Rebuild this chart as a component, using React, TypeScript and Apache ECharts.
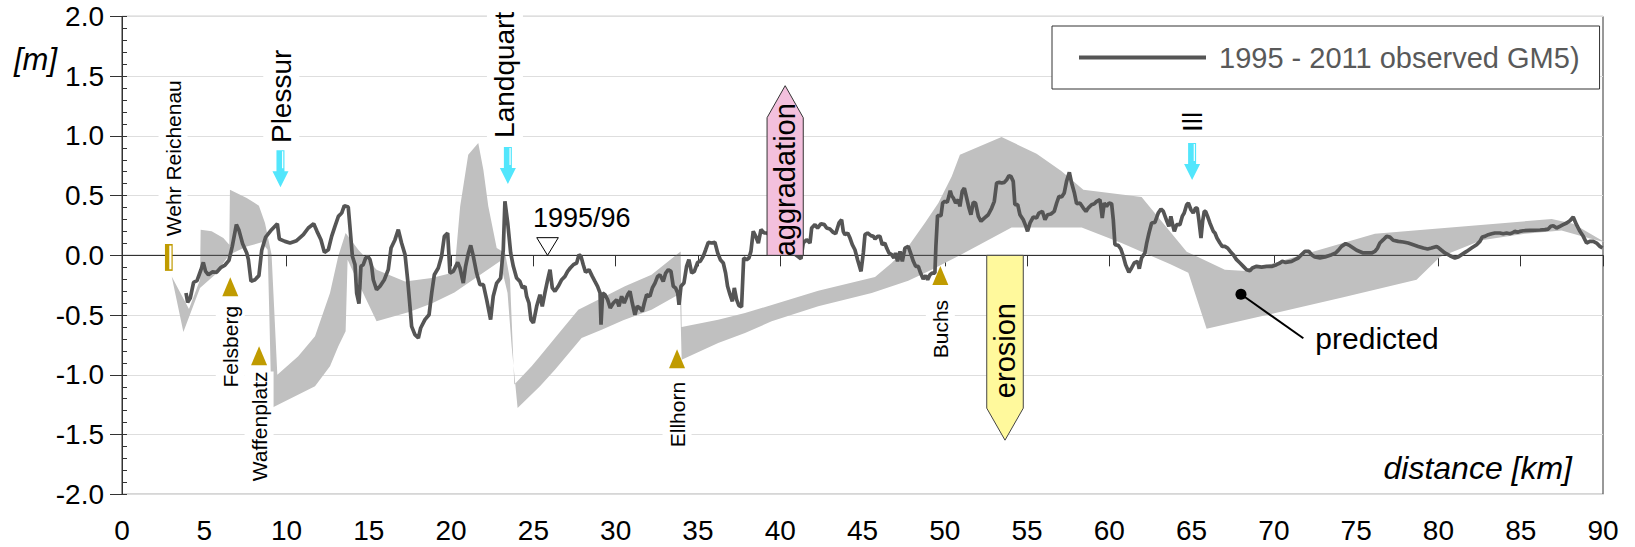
import React, { useEffect, useRef } from 'react';
import * as echarts from 'echarts';

const FONT = "'Liberation Sans', Arial, Helvetica, sans-serif";

// Axis ranges
const X_MIN = 0;
const X_MAX = 90;
const X_STEP = 5;
const Y_MIN = -2;
const Y_MAX = 2;
const Y_STEP = 0.5;
const Y_MINOR_STEP = 0.1;

const OBSERVED_NAME = '1995 - 2011 observed GM5)';

// Observed bed level change 1995 - 2011: [distance km, change m]
const observed: [number, number][] = [
  [3.89, -0.315], [3.99, -0.393], [4.15, -0.357], [4.35, -0.226], [4.56, -0.212], [4.8, -0.12], [4.94, -0.059],
  [5.08, -0.134], [5.25, -0.162], [5.49, -0.139], [5.75, -0.142], [6.02, -0.1], [6.26, -0.081], [6.5, -0.042],
  [6.7, 0.075], [6.95, 0.257], [7.11, 0.209], [7.33, 0.098], [7.58, 0.02], [7.68, -0.036], [7.84, -0.218],
  [8.08, -0.204], [8.32, -0.17], [8.49, 0.042], [8.73, 0.153], [9.09, 0.215], [9.44, 0.265], [9.56, 0.137],
  [9.9, 0.117], [10.21, 0.103], [10.61, 0.123], [11.02, 0.173], [11.32, 0.229], [11.65, 0.265], [11.85, 0.201],
  [12.09, 0.131], [12.3, 0.025], [12.54, 0.047], [12.74, 0.159], [12.94, 0.243], [13.15, 0.326], [13.35, 0.354],
  [13.51, 0.416], [13.75, 0.404], [13.85, 0.243], [14.0, -0.008], [14.16, -0.078], [14.26, -0.315], [14.4, -0.404],
  [14.52, -0.092], [14.66, -0.078], [14.81, -0.022], [14.93, -0.008], [15.07, -0.036], [15.17, -0.092], [15.27, -0.204],
  [15.47, -0.287], [15.68, -0.259], [15.94, -0.204], [16.18, -0.12], [16.35, 0.061], [16.59, 0.131], [16.79, 0.215],
  [16.99, 0.103], [17.2, 0.006], [17.36, -0.204], [17.5, -0.427], [17.6, -0.594], [17.8, -0.664], [18.01, -0.692],
  [18.15, -0.608], [18.41, -0.538], [18.66, -0.497], [18.82, -0.315], [18.98, -0.162], [19.22, -0.106], [19.42, -0.008],
  [19.59, 0.159], [19.79, 0.187], [19.93, -0.148], [20.13, -0.134], [20.4, -0.059], [20.54, -0.106], [20.74, -0.232],
  [20.88, -0.092], [21.05, 0.02], [21.19, 0.084], [21.35, -0.008], [21.55, -0.148], [21.75, -0.245], [21.96, -0.245],
  [22.16, -0.371], [22.4, -0.538], [22.56, -0.343], [22.77, -0.232], [23.01, -0.19], [23.17, 0.047], [23.27, 0.452],
  [23.44, 0.271], [23.62, 0.02], [23.78, -0.092], [23.98, -0.19], [24.18, -0.218], [24.33, -0.273], [24.49, -0.259],
  [24.59, -0.343], [24.73, -0.399], [24.85, -0.538], [25.0, -0.566], [25.2, -0.427], [25.4, -0.329], [25.54, -0.427],
  [25.7, -0.315], [25.87, -0.204], [26.01, -0.12], [26.15, -0.273], [26.31, -0.301], [26.51, -0.259], [26.72, -0.204],
  [26.92, -0.176], [27.08, -0.134], [27.24, -0.106], [27.43, -0.078], [27.63, -0.064], [27.77, 0.006], [27.89, -0.008],
  [28.03, -0.078], [28.17, -0.142], [28.38, -0.12], [28.58, -0.176], [28.74, -0.218], [28.9, -0.259], [29.05, -0.315],
  [29.11, -0.58], [29.21, -0.315], [29.35, -0.329], [29.51, -0.371], [29.67, -0.441], [29.86, -0.399], [30.06, -0.371],
  [30.2, -0.427], [30.36, -0.343], [30.52, -0.399], [30.73, -0.329], [30.87, -0.301], [31.01, -0.399], [31.17, -0.497],
  [31.31, -0.427], [31.48, -0.441], [31.62, -0.469], [31.74, -0.399], [31.88, -0.329], [32.08, -0.343], [32.23, -0.273],
  [32.39, -0.232], [32.55, -0.176], [32.69, -0.162], [32.89, -0.218], [33.04, -0.148], [33.2, -0.12], [33.36, -0.134],
  [33.5, -0.259], [33.64, -0.273], [33.77, -0.315], [33.85, -0.413], [33.97, -0.259], [34.15, -0.232], [34.31, -0.092],
  [34.45, -0.036], [34.62, -0.148], [34.78, -0.134], [34.98, -0.059], [35.14, -0.05], [35.32, -0.008], [35.47, 0.047],
  [35.63, 0.109], [35.83, 0.103], [36.03, 0.109], [36.2, 0.02], [36.36, -0.036], [36.54, -0.064], [36.68, -0.148],
  [36.8, -0.259], [36.95, -0.329], [37.09, -0.385], [37.21, -0.273], [37.35, -0.371], [37.49, -0.421], [37.65, -0.432],
  [37.78, -0.022], [37.96, -0.036], [38.1, -0.022], [38.22, 0.033], [38.36, 0.201], [38.51, 0.159], [38.67, 0.103],
  [38.83, 0.215], [39.03, 0.187], [39.19, 0.187], [41.26, -0.028], [41.4, 0.103], [41.6, 0.131], [41.81, 0.103],
  [41.91, 0.229], [42.11, 0.257], [42.27, 0.229], [42.48, 0.265], [42.68, 0.257], [42.82, 0.229], [43.02, 0.22],
  [43.22, 0.192], [43.37, 0.181], [43.57, 0.271], [43.73, 0.298], [43.83, 0.201], [43.93, 0.173], [44.1, 0.187],
  [44.24, 0.145], [44.38, 0.089], [44.54, 0.047], [44.7, -0.036], [44.91, -0.134], [45.05, 0.02], [45.15, 0.173],
  [45.31, 0.187], [45.51, 0.165], [45.66, 0.159], [45.76, 0.137], [45.92, 0.159], [46.06, 0.159], [46.2, 0.089],
  [46.36, 0.103], [46.47, 0.061], [46.61, 0.02], [46.77, 0.006], [46.91, -0.022], [47.01, 0.02], [47.13, -0.05],
  [47.28, 0.033], [47.42, -0.05], [47.58, 0.061], [47.78, 0.075], [47.92, 0.02], [48.09, -0.05], [48.23, -0.092],
  [48.39, -0.092], [48.53, -0.148], [48.69, -0.198], [48.84, -0.17], [48.96, -0.204], [49.1, -0.162], [49.24, -0.148],
  [49.4, -0.148], [49.46, 0.075], [49.56, 0.332], [49.77, 0.332], [49.87, 0.438], [50.01, 0.452], [50.15, 0.444],
  [50.25, 0.494], [50.33, 0.541], [50.42, 0.499], [50.52, 0.48], [50.66, 0.438], [50.82, 0.466], [50.92, 0.41],
  [51.06, 0.536], [51.19, 0.563], [51.33, 0.48], [51.47, 0.396], [51.59, 0.34], [51.73, 0.444], [51.87, 0.438],
  [52.04, 0.326], [52.2, 0.285], [52.4, 0.312], [52.64, 0.34], [52.85, 0.396], [53.01, 0.452], [53.15, 0.605],
  [53.31, 0.611], [53.45, 0.605], [53.62, 0.611], [53.76, 0.633], [53.9, 0.667], [54.02, 0.661], [54.16, 0.619],
  [54.26, 0.424], [54.43, 0.424], [54.57, 0.34], [54.77, 0.298], [54.93, 0.243], [55.03, 0.201], [55.18, 0.271],
  [55.38, 0.321], [55.58, 0.312], [55.72, 0.354], [55.93, 0.368], [56.09, 0.298], [56.25, 0.34], [56.45, 0.346],
  [56.65, 0.368], [56.8, 0.438], [56.94, 0.494], [57.1, 0.488], [57.26, 0.522], [57.4, 0.619], [57.57, 0.695],
  [57.71, 0.605], [57.87, 0.527], [58.01, 0.432], [58.21, 0.438], [58.42, 0.396], [58.58, 0.368], [58.72, 0.396],
  [58.92, 0.424], [59.09, 0.432], [59.23, 0.452], [59.43, 0.466], [59.57, 0.312], [59.69, 0.438], [59.83, 0.41],
  [59.98, 0.438], [60.14, 0.432], [60.24, 0.298], [60.34, 0.089], [60.54, 0.084], [60.7, 0.053], [60.85, -0.008],
  [60.99, -0.078], [61.19, -0.142], [61.35, -0.106], [61.51, -0.064], [61.72, -0.05], [61.82, -0.112], [61.96, -0.022],
  [62.16, 0.02], [62.27, 0.103], [62.41, 0.187], [62.57, 0.271], [62.77, 0.276], [62.97, 0.354], [63.14, 0.388],
  [63.28, 0.368], [63.5, 0.285], [63.62, 0.243], [63.74, 0.326], [63.87, 0.243], [63.95, 0.201], [64.09, 0.257],
  [64.29, 0.257], [64.43, 0.326], [64.55, 0.354], [64.7, 0.424], [64.8, 0.438], [64.96, 0.382], [65.1, 0.354],
  [65.24, 0.396], [65.34, 0.396], [65.44, 0.298], [65.57, 0.145], [65.67, 0.285], [65.77, 0.368], [65.85, 0.368],
  [65.97, 0.326], [66.11, 0.271], [66.32, 0.201], [66.42, 0.187], [66.54, 0.145], [66.72, 0.103], [66.86, 0.075],
  [67.02, 0.075], [67.19, 0.061], [67.35, 0.033], [67.53, 0.006], [67.73, -0.036], [67.94, -0.064], [68.14, -0.092],
  [68.34, -0.12], [68.54, -0.128], [68.69, -0.106], [68.95, -0.092], [69.25, -0.098], [69.56, -0.092], [69.9, -0.092],
  [70.16, -0.078], [70.37, -0.064], [70.51, -0.05], [70.71, -0.059], [71.08, -0.05], [71.28, -0.036], [71.48, -0.022],
  [71.68, 0.006], [71.89, 0.033], [72.13, 0.033], [72.29, 0.006], [72.49, -0.014], [72.8, -0.022], [73.1, -0.014],
  [73.51, 0.006], [73.75, 0.02], [73.91, 0.042], [74.11, 0.075], [74.36, 0.098], [74.62, 0.081], [75.03, 0.042],
  [75.43, 0.02], [75.94, 0.02], [76.14, 0.033], [76.3, 0.061], [76.44, 0.103], [76.65, 0.131], [76.85, 0.159],
  [77.05, 0.153], [77.25, 0.126], [77.56, 0.117], [77.86, 0.112], [78.16, 0.103], [78.47, 0.089], [78.77, 0.075],
  [79.08, 0.061], [79.34, 0.053], [79.58, 0.061], [79.89, 0.075], [80.03, 0.061], [80.15, 0.047], [80.39, 0.02],
  [80.7, -0.003], [81.0, -0.022], [81.2, -0.014], [81.41, 0.006], [81.71, 0.033], [82.01, 0.061], [82.32, 0.089],
  [82.52, 0.117], [82.66, 0.153], [82.82, 0.159], [83.03, 0.173], [83.23, 0.181], [83.43, 0.187], [83.73, 0.187],
  [83.94, 0.181], [84.14, 0.187], [84.34, 0.181], [84.48, 0.187], [84.65, 0.201], [84.81, 0.192], [84.95, 0.201],
  [85.15, 0.206], [85.56, 0.209], [86.17, 0.212], [86.47, 0.215], [86.67, 0.22], [86.83, 0.243], [86.98, 0.248],
  [87.18, 0.229], [87.38, 0.243], [87.58, 0.257], [87.79, 0.271], [87.99, 0.29], [88.19, 0.321], [88.39, 0.257],
  [88.6, 0.201], [88.8, 0.159], [89.0, 0.103], [89.2, 0.117], [89.41, 0.117], [89.61, 0.103], [89.81, 0.075],
  [89.97, 0.061],
];

// Predicted range of bed level change: upper and lower envelope [km, m]
const predictedUpper: [number, number][] = [
  [3.02, -0.176], [4.07, -0.449], [4.74, -0.204], [4.78, 0.215], [5.45, 0.201], [6.16, 0.145], [6.52, 0.089],
  [6.56, 0.55], [7.58, 0.48], [8.32, 0.416], [8.69, 0.271], [9.09, 0.006], [9.26, -0.483], [9.44, -0.999],
  [10.71, -0.845], [11.73, -0.678], [12.64, -0.315], [13.14, -0.008], [13.59, 0.187], [14.36, 0.047], [15.47, -0.12],
  [17.2, -0.218], [18.82, -0.19], [20.2, -0.142], [20.55, 0.41], [21.04, 0.842], [21.65, 0.94], [21.96, 0.717],
  [22.26, 0.41], [22.77, 0.061], [23.28, 0.02], [23.58, -0.204], [23.84, -1.082], [24.89, -0.929], [25.4, -0.845],
  [26.31, -0.692], [27.73, -0.455], [29.15, -0.357], [30.56, -0.259], [32.18, -0.162], [33.95, 0.033], [34.01, -0.6],
  [36.23, -0.538], [37.86, -0.483], [39.88, -0.399], [42.31, -0.296], [45.76, -0.181], [46.77, -0.064], [47.78, 0.075],
  [48.79, 0.271], [49.61, 0.438], [50.42, 0.661], [50.92, 0.842], [53.45, 0.99], [55.58, 0.851], [57.1, 0.703],
  [58.42, 0.55], [61.96, 0.488], [64.7, 0.031], [67.02, -0.12], [68.34, -0.131], [76.14, 0.181], [86.88, 0.304],
  [88.19, 0.265], [90.12, 0.11],
];
const predictedLower: [number, number][] = [
  [3.02, -0.176], [3.73, -0.642], [4.74, -0.273], [5.65, -0.162], [6.52, 0.006], [7.58, 0.075], [8.49, 0.109],
  [8.85, 0.047], [8.95, -0.483], [9.09, -1.278], [11.73, -1.096], [12.64, -0.929], [13.14, -0.762], [13.59, -0.636],
  [13.71, -0.036], [14.36, -0.232], [15.47, -0.552], [17.4, -0.477], [18.82, -0.404], [20.2, -0.31], [22.97, -0.05],
  [23.43, -0.315], [23.68, -0.762], [24.04, -1.278], [25.4, -1.096], [26.31, -0.957], [27.93, -0.692], [29.15, -0.622],
  [30.46, -0.544], [32.18, -0.455], [33.91, -0.321], [34.01, -0.873], [36.23, -0.734], [37.86, -0.65], [39.48, -0.552],
  [42.31, -0.427], [45.56, -0.315], [47.78, -0.212], [49.2, -0.12], [50.92, 0.0], [54.06, 0.234], [58.32, 0.234],
  [60.74, 0.103], [63.68, -0.073], [64.8, -0.145], [65.91, -0.614], [74.22, -0.351], [78.67, -0.204], [80.09, -0.014],
  [82.62, 0.126], [85.25, 0.181], [87.48, 0.209], [89.1, 0.145], [90.12, 0.11],
];

const zeroLine: [number, number][] = [[X_MIN, 0], [X_MAX, 0]];

// Gauging stations (triangle centre and label end)
const stationNames = ['Felsberg', 'Waffenplatz', 'Ellhorn', 'Buchs'];
const stationKm = [6.58, 8.33, 33.73, 49.73];
const stationM = [-0.262, -0.84, -0.865, -0.168];
const stationLabelM = [-0.423, -0.972, -1.059, -0.373];

// Tributaries (arrow tip and label start)
const riverNames = ['Plessur', 'Landquart', 'Ill'];
const riverKm = [9.63, 23.45, 65.03];
const riverTipM = [0.57, 0.597, 0.631];
const riverLabelKm = [9.68, 23.27, 65.08];
const riverLabelM = [0.94, 0.983, 1.033];

// Weir
const weirName = 'Wehr Reichenau';
const weirKm = [2.61, 3.08];
const weirM = [-0.13, 0.095];
const weirLabelKm = 3.1;
const weirLabelM = 0.16;

// Reference survey
const surveyLabel = '1995/96';
const surveyLabelPos: [number, number] = [24.97, 0.315];
const surveyMarkKm = 25.86;
const surveyMarkTopM = 0.148;

// Trend arrows
const aggradationKm = [39.2, 41.4];
const aggradationTopM = 1.152;
const aggradationTipM = 1.42;
const erosionKm = [52.55, 54.77];
const erosionBottomM = -1.279;
const erosionTipM = -1.547;
const erosionLabelM = -0.797;

// Callout for the predicted band
const predictedDot: [number, number] = [68.0, -0.326];
const predictedLeaderEnd: [number, number] = [71.79, -0.694];
const predictedLabelPos: [number, number] = [72.52, -0.7];

const GOLD = '#c09b00';
const CYAN = '#52e6fc';

function vText(text: string, x: number, y: number, size: number, align: string, bg = true) {
  return {
    type: 'text',
    x,
    y,
    rotation: Math.PI / 2,
    style: {
      text,
      fontSize: size,
      fontFamily: FONT,
      fill: '#000',
      align,
      verticalAlign: 'middle',
      backgroundColor: bg ? '#fff' : 'transparent',
      padding: bg ? [4, 0, 4, 0] : 0,
    },
  };
}

function renderAnnotations(_params: any, api: any) {
  const c = (km: number, m: number) => api.coord([km, m]);
  const children: any[] = [];

  // weir marker
  const [wx0, wy0] = c(weirKm[0], weirM[1]);
  const [wx1, wy1] = c(weirKm[1], weirM[0]);
  children.push({ type: 'rect', shape: { x: wx0, y: wy0, width: wx1 - wx0, height: wy1 - wy0 }, style: { fill: GOLD } });
  children.push({
    type: 'rect',
    shape: { x: wx1 - 3.4, y: wy0 + 1.6, width: 2.2, height: wy1 - wy0 - 3.2 },
    style: { fill: '#fff' },
  });
  const [wlx, wly] = c(weirLabelKm, weirLabelM);
  children.push(vText(weirName, wlx, wly, 21, 'left'));

  // stations
  stationNames.forEach((name, i) => {
    const [sx, sy] = c(stationKm[i], stationM[i]);
    children.push({
      type: 'polygon',
      shape: { points: [[sx - 8, sy + 9.5], [sx + 8, sy + 9.5], [sx, sy - 9.5]] },
      style: { fill: GOLD },
    });
    const [, ly] = c(stationKm[i], stationLabelM[i]);
    children.push(vText(name, sx, ly, 21, 'right'));
  });

  // tributaries
  riverNames.forEach((name, i) => {
    const [ax, ay] = c(riverKm[i], riverTipM[i]);
    children.push({
      type: 'polygon',
      shape: {
        points: [
          [ax - 4, ay - 37], [ax + 4, ay - 37], [ax + 4, ay - 16], [ax + 8, ay - 16],
          [ax, ay], [ax - 8, ay - 16], [ax - 4, ay - 16],
        ],
      },
      style: { fill: CYAN },
    });
    children.push({
      type: 'line',
      shape: { x1: ax + 2.2, y1: ay - 36, x2: ax + 2.2, y2: ay - 19 },
      style: { stroke: '#fff', lineWidth: 1.2 },
    });
    const [lx, ly] = c(riverLabelKm[i], riverLabelM[i]);
    children.push(vText(name, lx, ly, 28, 'left'));
  });

  // survey reference
  const [tx, ty] = c(surveyMarkKm, 0);
  const [, tTop] = c(surveyMarkKm, surveyMarkTopM);
  children.push({
    type: 'polygon',
    shape: { points: [[tx - 10.8, tTop], [tx + 10.8, tTop], [tx, ty]] },
    style: { fill: '#fff', stroke: '#000', lineWidth: 1 },
  });
  const [slx, sly] = c(surveyLabelPos[0], surveyLabelPos[1]);
  children.push({
    type: 'text',
    x: slx,
    y: sly,
    style: { text: surveyLabel, fontSize: 27, fontFamily: FONT, fill: '#000', align: 'left', verticalAlign: 'middle' },
  });

  // aggradation arrow
  const agPts = [
    c(aggradationKm[0], 0), c(aggradationKm[0], aggradationTopM),
    c((aggradationKm[0] + aggradationKm[1]) / 2, aggradationTipM),
    c(aggradationKm[1], aggradationTopM), c(aggradationKm[1], 0),
  ];
  children.push({ type: 'polygon', shape: { points: agPts }, style: { fill: '#f3c0dd', stroke: '#333', lineWidth: 1 } });
  const [agx, agy] = c((aggradationKm[0] + aggradationKm[1]) / 2, 0);
  children.push(vText('aggradation', agx, agy + 1, 29, 'left', false));

  // erosion arrow
  const erPts = [
    c(erosionKm[0], 0), c(erosionKm[0], erosionBottomM),
    c((erosionKm[0] + erosionKm[1]) / 2, erosionTipM),
    c(erosionKm[1], erosionBottomM), c(erosionKm[1], 0),
  ];
  children.push({ type: 'polygon', shape: { points: erPts }, style: { fill: '#fff99c', stroke: '#444', lineWidth: 1 } });
  const [erx, ery] = c((erosionKm[0] + erosionKm[1]) / 2, erosionLabelM);
  children.push(vText('erosion', erx, ery, 29, 'center', false));

  // predicted callout
  const [dx, dy] = c(predictedDot[0], predictedDot[1]);
  const [lex, ley] = c(predictedLeaderEnd[0], predictedLeaderEnd[1]);
  children.push({ type: 'line', shape: { x1: dx, y1: dy, x2: lex, y2: ley }, style: { stroke: '#000', lineWidth: 2 } });
  children.push({ type: 'circle', shape: { cx: dx, cy: dy, r: 5.5 }, style: { fill: '#000' } });
  const [plx, ply] = c(predictedLabelPos[0], predictedLabelPos[1]);
  children.push({
    type: 'text',
    x: plx,
    y: ply,
    style: { text: 'predicted', fontSize: 30, fontFamily: FONT, fill: '#000', align: 'left', verticalAlign: 'middle' },
  });

  return { type: 'group', children };
}

function renderBand(_params: any, api: any) {
  const pts = predictedUpper
    .map((p) => api.coord(p))
    .concat(predictedLower.slice().reverse().map((p) => api.coord(p)));
  return { type: 'polygon', shape: { points: pts }, style: { fill: '#c0c0c0' } };
}

export default function App() {
  const ref = useRef<HTMLDivElement>(null);

  useEffect(() => {
    if (!ref.current) return;
    const chart = echarts.init(ref.current, null, { renderer: 'svg' });
    const axisColor = '#333';
    chart.setOption({
      animation: false,
      backgroundColor: '#fff',
      textStyle: { fontFamily: FONT },
      grid: {
        left: 122,
        right: 32,
        top: 16.4,
        bottom: 52.7,
        show: true,
        borderColor: axisColor,
        borderWidth: 1,
        containLabel: false,
        outerBoundsMode: 'none',
      },
      legend: {
        left: 1052,
        top: 26,
        data: [OBSERVED_NAME],
        selectedMode: false,
        icon: 'rect',
        itemWidth: 127,
        itemHeight: 4,
        padding: [17, 20, 17, 27],
        borderColor: axisColor,
        borderWidth: 1,
        backgroundColor: '#fff',
        textStyle: { fontSize: 29, color: '#595959', fontFamily: FONT, padding: [0, 0, 0, 8] },
      },
      xAxis: {
        type: 'value',
        min: X_MIN,
        max: X_MAX,
        interval: X_STEP,
        axisLine: { show: true, lineStyle: { color: axisColor } },
        axisTick: { show: true, length: 11, lineStyle: { color: axisColor } },
        axisLabel: { fontSize: 28, lineHeight: 28, color: '#000', margin: 22, fontFamily: FONT },
        splitLine: { show: false },
      },
      yAxis: [
        {
          type: 'value',
          min: Y_MIN,
          max: Y_MAX,
          interval: Y_STEP,
          axisLine: { show: true, lineStyle: { color: axisColor } },
          axisTick: { show: true, length: 12, lineStyle: { color: axisColor } },
          axisLabel: {
            fontSize: 28,
            color: '#000',
            margin: 18,
            fontFamily: FONT,
            formatter: (v: number) => v.toFixed(1),
          },
          splitLine: { show: true, lineStyle: { color: '#dedede', width: 1 } },
        },
        {
          type: 'value',
          min: Y_MIN,
          max: Y_MAX,
          interval: Y_MINOR_STEP,
          position: 'left',
          offset: 0,
          axisLine: { show: false },
          axisTick: { show: true, inside: true, length: 5, lineStyle: { color: axisColor } },
          axisLabel: { show: false },
          splitLine: { show: false },
        },
      ],
      graphic: [
        {
          type: 'text',
          x: 14,
          y: 59,
          style: { text: '[m]', fontSize: 31, fontStyle: 'italic', fontFamily: FONT, fill: '#000', align: 'left', verticalAlign: 'middle' },
        },
        {
          type: 'text',
          x: 1572,
          y: 468,
          style: { text: 'distance [km]', fontSize: 32, fontStyle: 'italic', fontFamily: FONT, fill: '#000', align: 'right', verticalAlign: 'middle' },
        },
      ],
      series: [
        {
          name: 'predicted',
          type: 'custom',
          renderItem: renderBand,
          data: [[0, 0]],
          silent: true,
          z: 1,
          clip: false,
        },
        {
          name: 'zero',
          type: 'line',
          data: zeroLine,
          symbol: 'none',
          silent: true,
          lineStyle: { color: axisColor, width: 1 },
          z: 2,
        },
        {
          name: OBSERVED_NAME,
          type: 'line',
          data: observed,
          symbol: 'none',
          showSymbol: false,
          lineStyle: { color: '#555', width: 3.7 },
          itemStyle: { color: '#555' },
          z: 4,
        },
        {
          name: 'annotations',
          type: 'custom',
          renderItem: renderAnnotations,
          data: [[0, 0]],
          silent: true,
          z: 6,
          clip: false,
        },
      ],
    });
    return () => chart.dispose();
  }, []);

  return (
    <div
      ref={ref}
      style={{ position: 'absolute', left: 0, top: 0, width: 1635, height: 547, background: '#fff' }}
    />
  );
}
